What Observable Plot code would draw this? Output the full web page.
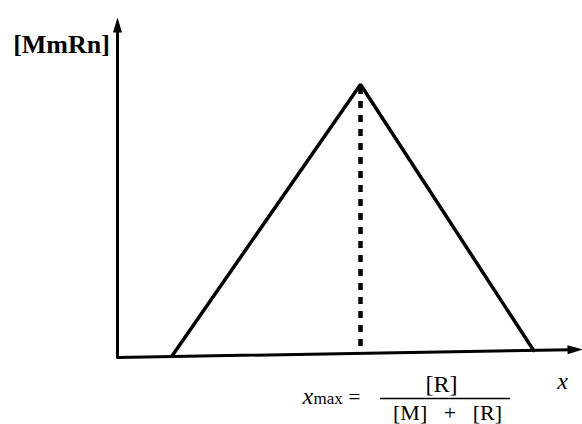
<!DOCTYPE html>
<html>
<head>
<meta charset="utf-8">
<script src="https://cdn.jsdelivr.net/npm/d3@7"></script>
<script src="https://cdn.jsdelivr.net/npm/@observablehq/plot@0.6"></script>
<style>
  html, body { margin: 0; padding: 0; background: #fff; }
</style>
</head>
<body>
<div id="chart"></div>
<script>
// Concentration profile of the complex [MmRn] against mole fraction x (Job plot)
const profileX = [0.118, 0.5226, 0.895];   // start, x_max, end
const profileY = [0.006, 0.803, 0.0206];   // [MmRn]
const xMax = 0.5226;
const xMaxFloor = 0.012;
const xMaxTop = 0.803;
// axes (slightly skewed in the source image)
const axisX = [0, 0, 0.975];
const axisY = [0.97, 0, 0.023];
const arrowX = [0, 1];
const arrowY = [1, 0.0235];
const arrowRotate = [0, 89];

const profile = profileX.map((x, i) => ({x, y: profileY[i]}));
const axisPath = axisX.map((x, i) => ({x, y: axisY[i]}));
const arrows = arrowX.map((x, i) => ({x, y: arrowY[i], r: arrowRotate[i]}));

const arrowHead = {
  draw(ctx) {
    const w = 9, h = 15;
    ctx.moveTo(0, 0);
    ctx.lineTo(-w / 2, h);
    ctx.lineTo(w / 2, h);
    ctx.closePath();
  }
};

const serif = "Liberation Serif, Times New Roman, serif";

const chart = Plot.plot({
  width: 582,
  height: 424,
  margin: 0,
  x: {domain: [0, 1], range: [117, 582], axis: null},
  y: {domain: [0, 1], range: [357, 17], axis: null},
  style: {background: "#fff"},
  marks: [
    Plot.line(axisPath, {x: "x", y: "y", stroke: "#000", strokeWidth: 3, strokeLinejoin: "round"}),
    Plot.dot(arrows, {x: "x", y: "y", rotate: "r", symbol: arrowHead, r: 5, fill: "#000", stroke: "none"}),
    Plot.line(profile, {x: "x", y: "y", stroke: "#000", strokeWidth: 3.5, strokeLinejoin: "miter"}),
    Plot.ruleX([xMax], {y1: xMaxFloor, y2: xMaxTop, stroke: "#000", strokeWidth: 4.5, strokeDasharray: "7,7", strokeDashoffset: -7}),
    Plot.text(["[MmRn]"], {x: -0.1204, y: 0.897, fontFamily: serif, fontSize: 26, fontWeight: "bold", lineAnchor: "bottom", fill: "#000"}),
    Plot.text(["x"], {x: 0.957, y: -0.0912, fontFamily: serif, fontSize: 24, fontStyle: "italic", lineAnchor: "bottom", fill: "#000"}),
    Plot.text(["x"], {x: 0.398, y: -0.1353, fontFamily: serif, fontSize: 24, fontStyle: "italic", textAnchor: "start", lineAnchor: "bottom", fill: "#000"}),
    Plot.text(["max"], {x: 0.4215, y: -0.1353, fontFamily: serif, fontSize: 17, textAnchor: "start", lineAnchor: "bottom", fill: "#000"}),
    Plot.text(["="], {x: 0.497, y: -0.1353, fontFamily: serif, fontSize: 21, textAnchor: "start", lineAnchor: "bottom", fill: "#000"}),
    Plot.ruleY([-0.1206], {x1: 0.5656, x2: 0.8452, stroke: "#000", strokeWidth: 1.5}),
    Plot.text(["[R]"], {x: 0.6968, y: -0.1029, fontFamily: serif, fontSize: 24, lineAnchor: "bottom", fill: "#000"}),
    Plot.text(["[M]\u00a0\u2002+\u00a0\u2002[R]"], {x: 0.7097, y: -0.1824, fontFamily: serif, fontSize: 22, lineAnchor: "bottom", fill: "#000"})
  ]
});
document.getElementById("chart").appendChild(chart);
</script>
</body>
</html>
